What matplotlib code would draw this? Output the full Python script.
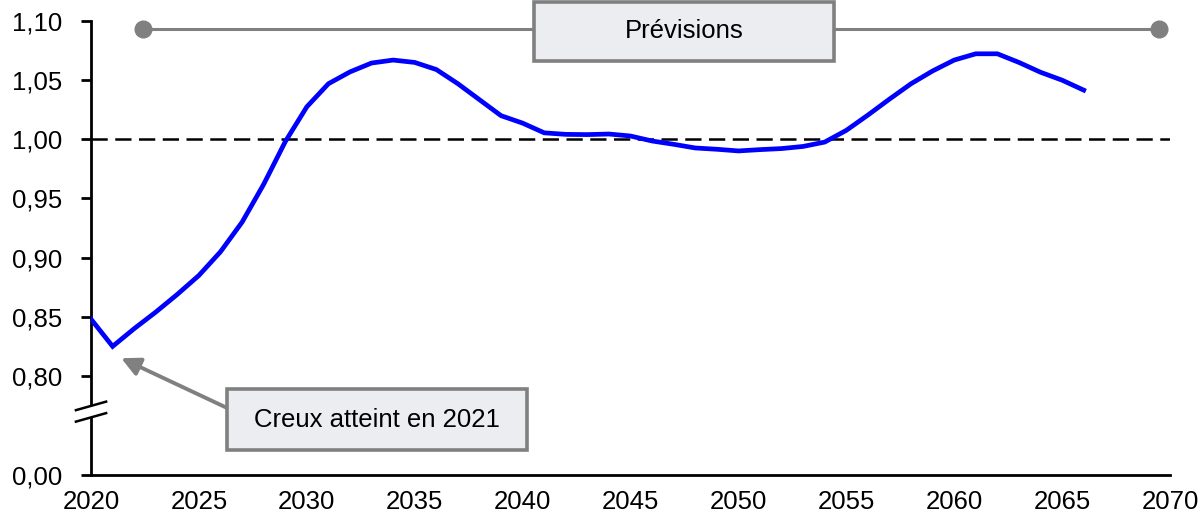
import matplotlib.pyplot as plt
from matplotlib.patches import Rectangle

plt.rcParams['font.family'] = ['Liberation Sans', 'DejaVu Sans']

# Ratio series, one value per year
years = list(range(2020, 2067))
ratio = [0.848, 0.825, 0.840, 0.854, 0.869, 0.885, 0.905, 0.930, 0.962, 0.998,
         1.0275, 1.047, 1.057, 1.0645, 1.067, 1.065, 1.059, 1.047, 1.0335, 1.020,
         1.0137, 1.0055, 1.0042, 1.004, 1.0045, 1.0028, 0.9986, 0.9958, 0.9927, 0.9916,
         0.9902, 0.9913, 0.9922, 0.994, 0.9977, 1.0076, 1.0205, 1.034, 1.047, 1.0578,
         1.067, 1.0723, 1.0723, 1.065, 1.0567, 1.050, 1.0416]

x_ticks = [2020, 2025, 2030, 2035, 2040, 2045, 2050, 2055, 2060, 2065, 2070]
y_ticks = [0.80, 0.85, 0.90, 0.95, 1.00, 1.05, 1.10]
y_labels = ["0,80", "0,85", "0,90", "0,95", "1,00", "1,05", "1,10"]

# broken axis: "0,00" sits at the bottom limit
Y_BOTTOM = 0.7163
forecast_span = (2022.4, 2069.5)
trough_year, trough_value = 2021.4, 0.815

GRAY = "#808080"
BOX_FILL = "#ECEDF1"
FS = 18.5


def main():
    fig = plt.figure(figsize=(12.01, 5.14), dpi=100)
    ax = fig.add_axes([0.0758, 0.0759, 0.8984, 0.8832])

    ax.plot(years, ratio, color="#0000FF", lw=3.4, zorder=3, solid_joinstyle="miter")
    ax.axhline(1.0, color="black", lw=1.8, dashes=(6.5, 3), zorder=2)

    ax.set_xlim(2020, 2070)
    ax.set_ylim(Y_BOTTOM, 1.10)
    ax.set_xticks(x_ticks)
    ax.set_xticklabels([str(t) for t in x_ticks], fontsize=FS)
    ax.set_yticks([Y_BOTTOM] + y_ticks)
    ax.set_yticklabels(["0,00"] + y_labels, fontsize=FS)
    ax.tick_params(axis="x", length=0, pad=11)
    ax.tick_params(axis="y", length=7, width=2, pad=14)

    for s in ("top", "right"):
        ax.spines[s].set_visible(False)
    for s in ("left", "bottom"):
        ax.spines[s].set_linewidth(2)

    # axis break marks
    tr = ax.get_yaxis_transform()
    ax.fill([-0.014, 0.014, 0.014, -0.014],
            [0.7712, 0.7783, 0.7686, 0.7615],
            color="white", transform=tr, clip_on=False, zorder=4)
    for yc in (0.7747, 0.7650):
        ax.plot([-0.014, 0.014], [yc - 0.0036, yc + 0.0036], color="black",
                lw=1.8, transform=tr, clip_on=False, zorder=5)

    # "Prévisions" bracket
    ax.plot(forecast_span, [1.0933, 1.0933], color=GRAY, lw=2.2, marker="o",
            markersize=12, clip_on=False, zorder=3)
    mid = 2047.47
    ax.add_patch(Rectangle((mid - 6.96, 1.0662), 13.92, 0.0498, facecolor=BOX_FILL,
                           edgecolor=GRAY, lw=2.6, clip_on=False, zorder=4))
    ax.text(mid, 1.0915, "Prévisions", fontsize=FS, ha="center", va="center", zorder=5)

    # trough annotation
    ax.add_patch(Rectangle((2026.3, 0.7375), 13.92, 0.0515, facecolor=BOX_FILL,
                           edgecolor=GRAY, lw=2.6, clip_on=False, zorder=4))
    ax.text(2033.26, 0.7628, "Creux atteint en 2021", fontsize=FS,
            ha="center", va="center", zorder=5)
    ax.annotate("", xy=(trough_year, trough_value), xytext=(2026.3, 0.7730),
                arrowprops=dict(arrowstyle="-|>", color=GRAY, lw=2.8,
                                mutation_scale=28, shrinkA=0, shrinkB=0),
                zorder=3)

    fig.savefig("out.png", dpi=100)


if __name__ == '__main__':
    main()
